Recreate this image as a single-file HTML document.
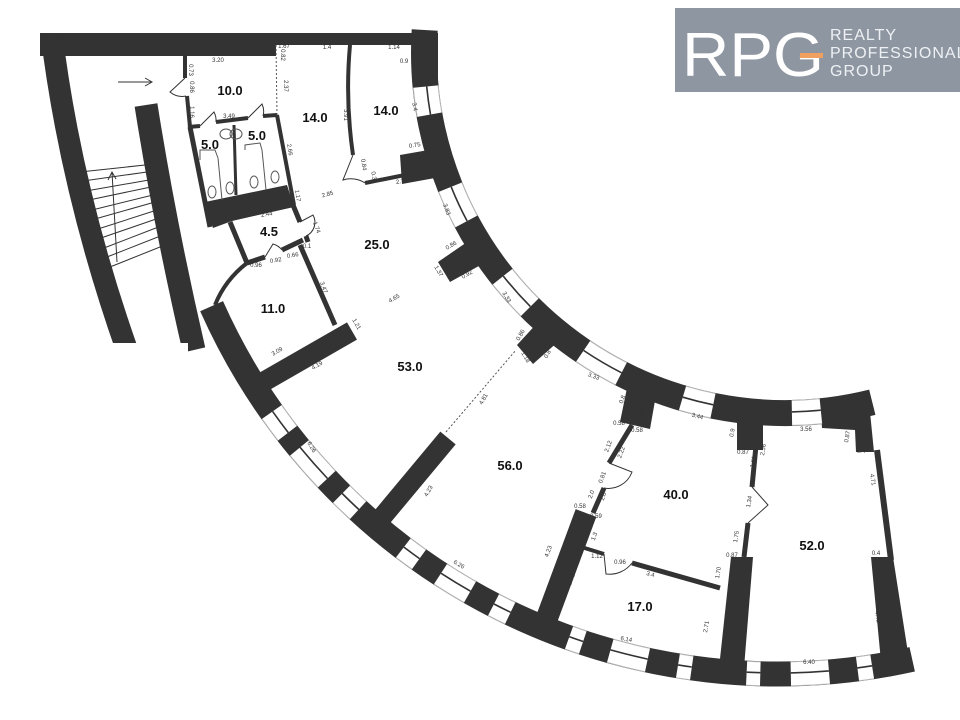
<!DOCTYPE html>
<html><head><meta charset="utf-8">
<style>
html,body{margin:0;padding:0;background:#fff;}
svg{display:block;}
.rm{font-family:"Liberation Sans",sans-serif;font-weight:bold;font-size:13px;fill:#111;text-anchor:middle;}
.d{font-family:"Liberation Sans",sans-serif;font-size:6px;fill:#333;text-anchor:middle;}
</style></head>
<body>
<svg id="s" width="960" height="720" viewBox="0 0 960 720" xmlns="http://www.w3.org/2000/svg">
<rect width="960" height="720" fill="#fff"/>
<g id="walls" fill="#333" stroke="none">
  <rect x="40" y="33" width="398" height="12"/>
  <rect x="40" y="33" width="236" height="23"/>
  <rect x="413" y="33" width="25" height="52"/>
  <path d="M51,30 Q70,188 127,350" stroke="#333" stroke-width="22" fill="none"/>
  <path d="M146,105 Q165,225 194,350" stroke="#333" stroke-width="23" fill="none"/>
  <polygon points="400,155 440,148 446,176 402,184"/>
  <polygon points="438,262 470,240 486,262 450,282"/>
  <polygon points="517,345 540,320 560,340 533,364"/>
  <polygon points="620,422 627,388 656,395 650,429"/>
  <rect x="737" y="410" width="26" height="40"/>
  <polygon points="820,400 868,392 874,452 856,452 855,430 822,428"/>
  <path d="M877,450 L891,560" stroke="#333" stroke-width="6" fill="none"/>
  <polygon points="871,557 893,557 911,672 882,672"/>
  <path d="M258,385 L352,331" stroke="#333" stroke-width="20"/>
  <path d="M448,438 L378,522" stroke="#333" stroke-width="20"/>
  <path d="M586,513 L547,618" stroke="#333" stroke-width="22"/>
  <polygon points="731,557 753,557 744,668 719,668"/>
  <polygon points="205,202 287,185 294,207 232,221 213,228"/>
</g>
<rect x="60" y="343" width="128" height="25" fill="#fff"/>
<rect x="30" y="18" width="45" height="15" fill="#fff"/>
<g id="thin" stroke="#333" fill="none" stroke-linecap="butt">
  <path d="M185,56 L185,78" stroke-width="4"/>
  <path d="M187,96 L190,127" stroke-width="4"/>
  <path d="M190,127 L210,227" stroke-width="5"/>
  <path d="M188,127 L200,126 M216,122 L248,118 M263,116 L277,115" stroke-width="4"/>
  <path d="M234,125 L236,195" stroke-width="3"/>
  <path d="M277,115 L294,205" stroke-width="4"/>
  <path d="M276,45 L277,115" stroke-width="1" stroke-dasharray="2,2" stroke="#555"/>
  <path d="M230,222 L247,263" stroke-width="5"/>
  <path d="M247,263 L265,257 M282,250 L303,240" stroke-width="5"/>
  <path d="M293,205 L300,222 M306,236 L308,242" stroke-width="5"/>
  <path d="M247,263 Q225,280 215,305" stroke-width="4"/>
  <path d="M300,245 L335,325" stroke-width="5"/>
  <path d="M350,45 Q345,100 353,155" stroke-width="4"/>
  <path d="M365,183 L405,175" stroke-width="4"/>
  <path d="M632,425 L609,463" stroke-width="5"/>
  <path d="M604,488 L593,513" stroke-width="5"/>
  <path d="M578,546 L604,554" stroke-width="4"/>
  <path d="M632,563 L720,588" stroke-width="5"/>
  <path d="M758,425 L752,487" stroke-width="5"/>
  <path d="M748,523 L744,557" stroke-width="5"/>
  <path d="M446,432 L516,350" stroke-width="1" stroke-dasharray="2,2" stroke="#555"/>
</g>
<g id="doors" stroke="#333" fill="none" stroke-width="1">
  <path d="M185,78 L170,92 A19,19 0 0 0 186,96"/>
  <path d="M200,126 L214,112 A18,18 0 0 1 216,122"/>
  <path d="M248,118 L262,104 A17,17 0 0 1 263,116"/>
  <path d="M300,222 L313,215 A15,15 0 0 1 306,236"/>
  <path d="M265,257 L273,244 A17,17 0 0 1 282,250"/>
  <path d="M353,155 L343,180 A26,26 0 0 1 365,183"/>
  <path d="M609,463 L632,472 A25,25 0 0 1 604,488"/>
  <path d="M604,554 L606,574 A28,28 0 0 0 632,563"/>
  <path d="M752,487 L768,505 L748,523"/>
</g>
<g id="win"></g>
<g id="stairs" stroke="#333" stroke-width="1" fill="none">
  <path d="M80,172 L145,165 M83,181 L147,172 M86,191 L149,180 M89,200 L151,187 M92,210 L153,195 M95,219 L155,202 M98,229 L157,210 M101,238 L159,218 M104,248 L161,226 M107,257 L163,235 M110,267 L165,245"/>
  <path d="M117,262 L112,172 M108,180 L112,172 L116,179"/>
  <path d="M118,82 L152,82 M145,78 L152,82 L145,86"/>
</g>
<g id="fix" stroke="#555" fill="none" stroke-width="1">
  <ellipse cx="226" cy="134" rx="6" ry="5"/><ellipse cx="236" cy="134" rx="6" ry="5"/>
  <ellipse cx="212" cy="192" rx="4" ry="6"/><ellipse cx="230" cy="188" rx="4" ry="6"/>
  <ellipse cx="254" cy="182" rx="4" ry="6"/><ellipse cx="275" cy="177" rx="4" ry="6"/>
  <path d="M200,160 L200,150 L215,150 L218,158 M245,150 L245,145 L260,143 L262,150"/>
  <path d="M218,158 L222,200 M262,150 L266,190"/>
</g>
<g id="labels">
  <text class="rm" x="230" y="95">10.0</text>
  <text class="rm" x="315" y="122">14.0</text>
  <text class="rm" x="386" y="115">14.0</text>
  <text class="rm" x="210" y="149">5.0</text>
  <text class="rm" x="257" y="140">5.0</text>
  <text class="rm" x="269" y="236">4.5</text>
  <text class="rm" x="377" y="249">25.0</text>
  <text class="rm" x="273" y="313">11.0</text>
  <text class="rm" x="410" y="371">53.0</text>
  <text class="rm" x="510" y="470">56.0</text>
  <text class="rm" x="676" y="499">40.0</text>
  <text class="rm" x="812" y="550">52.0</text>
  <text class="rm" x="640" y="611">17.0</text>
</g>
<g id="dims"></g>
<g id="logo">
  <rect x="675" y="8" width="285" height="84" fill="#8e96a1"/>
  <text x="682" y="76" font-family="Liberation Sans, sans-serif" font-size="62" fill="#fff" textLength="142" lengthAdjust="spacingAndGlyphs">RPG</text>
  <rect x="800" y="53" width="23" height="5" fill="#f0a060"/>
  <g font-family="Liberation Sans, sans-serif" font-size="16" fill="#eef1f4" letter-spacing="1">
    <text x="830" y="40">REALTY</text>
    <text x="830" y="58">PROFESSIONAL</text>
    <text x="830" y="76">GROUP</text>
  </g>
</g>
</svg>
<script>
(function(){
var NS='http://www.w3.org/2000/svg';
var s=document.getElementById('s');
function el(tag,at,par){var e=document.createElementNS(NS,tag);for(var k in at)e.setAttribute(k,at[k]);(par||s).appendChild(e);return e;}
function pt(c,r,a){a*=Math.PI/180;return [c[0]+r*Math.cos(a),c[1]+r*Math.sin(a)];}
function arcD(c,r,a1,a2){var p=pt(c,r,a1),q=pt(c,r,a2);var lg=Math.abs(a2-a1)>180?1:0;var sw=a2>a1?1:0;return 'M'+p[0].toFixed(1)+','+p[1].toFixed(1)+' A'+r+','+r+' 0 '+lg+' '+sw+' '+q[0].toFixed(1)+','+q[1].toFixed(1);}
var walls=document.getElementById('walls');
var C1=[778,54],C2=[785,52];
el('path',{d:arcD(C1,620,77.5,156),stroke:'#333','stroke-width':25,fill:'none'},walls);
el('path',{d:arcD(C2,361,76,183.5),stroke:'#333','stroke-width':26,fill:'none'},walls);
var win=document.getElementById('win');
function windowArc(c,rc,w,a1,a2){
  el('path',{d:arcD(c,rc,a1,a2),stroke:'#fff','stroke-width':w-1,fill:'none'},win);
  el('path',{d:arcD(c,rc+w/2-0.5,a1,a2),stroke:'#b5b5b5','stroke-width':1,fill:'none'},win);
  el('path',{d:arcD(c,rc-w/2+0.5,a1,a2),stroke:'#b5b5b5','stroke-width':1,fill:'none'},win);
  el('path',{d:arcD(c,rc-1,a1,a2),stroke:'#333','stroke-width':1.6,fill:'none'},win);
}
var lw=[[262,278],[290,318],[333,350],[396,412],[434,464],[488,505],[565,579],[607,645],[676,690],[746,760],[791,830],[859,874]];
lw.forEach(function(r){var a1=Math.acos((r[0]-778)/632)*180/Math.PI,a2=Math.acos((r[1]-778)/632)*180/Math.PI;windowArc(C1,620,25,a1,a2);});
var cw=[[170,174.5],[152,158],[135,141.5],[117,124],[101.5,106.5],[84.3,88.9]];
cw.forEach(function(r){windowArc(C2,361,26,r[0],r[1]);});
var dims=[["3.20",218,62,0],["1.67",284,48,0],["1.4",327,49,0],["1.14",394,49,0],["0.9",404,63,0],["0.73",189,70,90],["0.86",190,87,90],["1.16",190,112,90],["3.49",229,118,0],["0.82",281,55,90],["2.37",284,86,90],["3.91",344,115,90],["3.4",413,107,80],["0.75",415,147,-10],["2.66",288,150,80],["0.84",362,165,80],["0.3",372,176,80],["2.77",402,183,-10],["2.85",328,196,-15],["1.17",296,196,80],["3.83",445,210,70],["2.44",267,216,-10],["1.74",315,228,70],["0.1",307,248,0],["0.96",256,267,0],["0.92",276,262,-10],["0.66",293,257,-10],["0.86",452,247,-30],["1.37",437,272,60],["0.92",468,276,-30],["3.47",322,288,70],["4.65",395,300,-30],["3.33",505,298,60],["1.21",355,325,60],["0.86",522,336,-60],["1.18",524,358,60],["0.8",549,355,-60],["3.09",278,353,-30],["4.19",318,367,-30],["3.33",593,378,20],["4.81",485,400,-60],["0.8",624,400,-70],["0.9",643,412,-70],["3.44",697,418,15],["0.9",734,433,-80],["3.56",806,431,0],["0.87",849,437,-80],["0.58",619,425,0],["0.58",637,432,0],["2.12",610,447,-70],["2.22",623,453,-70],["0.87",743,454,0],["1.61",755,462,-80],["2.56",765,450,-80],["0.4",861,453,0],["4.71",871,480,80],["6.26",310,448,60],["0.81",604,478,-70],["2.0",593,495,-70],["2.0",605,497,-70],["0.58",580,508,0],["0.59",596,518,0],["1.3",596,537,-70],["4.23",430,492,-60],["1.34",751,502,-80],["4.23",550,552,-70],["1.75",738,537,-80],["0.87",732,557,0],["0.4",876,555,0],["1.12",597,558,0],["0.96",620,564,0],["3.4",650,576,15],["1.70",720,573,-80],["2.71",573,580,-70],["6.26",458,566,30],["6.1",741,610,-80],["4.41",876,617,80],["2.71",708,627,-80],["6.14",626,641,10],["6.40",809,664,0]];
var dg=document.getElementById('dims');
dims.forEach(function(d){var t=el('text',{'class':'d',x:d[1],y:d[2],transform:'rotate('+d[3]+' '+d[1]+' '+d[2]+')'},dg);t.textContent=d[0];});
})();
</script>
</body></html>
